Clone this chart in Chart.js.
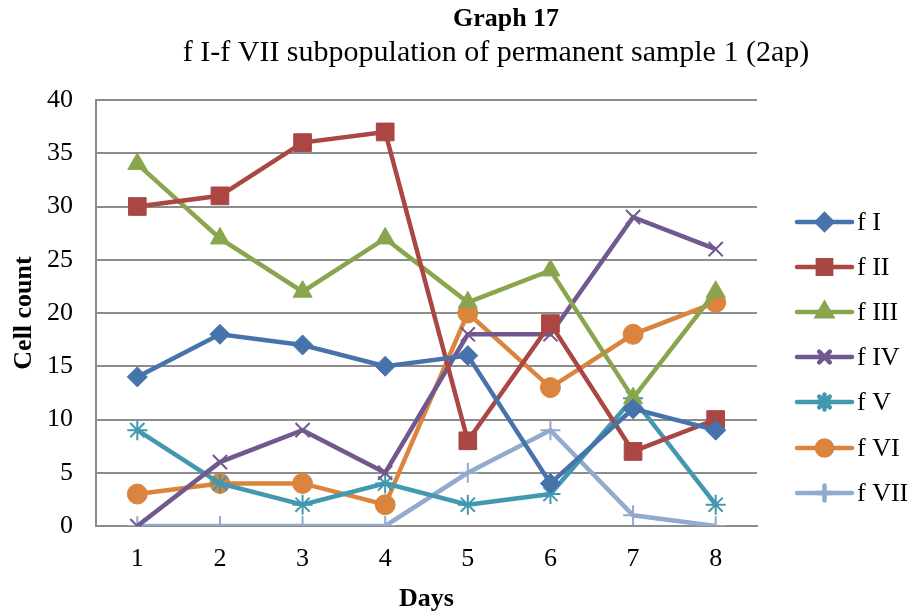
<!DOCTYPE html>
<html><head><meta charset="utf-8">
<script src="https://cdn.jsdelivr.net/npm/chart.js@4/dist/chart.umd.min.js"></script>
<style>html,body{margin:0;padding:0;background:#fff}#wrap{width:912px;height:613px}</style>
</head><body><div id="wrap"><canvas id="c" width="912" height="613"></canvas></div>
<script>
const days = ['1','2','3','4','5','6','7','8'];
const seriesNames = ['f I','f II','f III','f IV','f V','f VI','f VII'];
const fI   = [14,18,17,15,16,4,11,9];
const fII  = [30,31,36,37,8,19,7,10];
const fIII = [34,27,22,27,21,24,12,22];
const fIV  = [0,6,9,5,18,18,29,26];
const fV   = [9,4,2,4,2,3,12,2];
const fVI  = [3,4,4,2,20,13,18,21];
const fVII = [0,0,0,0,5,9,1,0];
const titleText = 'Graph 17';
const subtitleText = 'f I-f VII subpopulation of permanent sample 1 (2ap)';

const colors = ['#4673AB','#AA4643','#89A54E','#71588F','#4198AF','#DB843D','#93A9CF'];
const styles = ['rectRot','rect','triangle','crossRot','star','circle','cross'];
const radii  = [10,12.5,11,10,10,10,10];
const values = [fI,fII,fIII,fIV,fV,fVI,fVII];
const FONT = '"Liberation Serif","Times New Roman",serif';
const isOpen = s => s==='crossRot'||s==='star'||s==='cross';

const datasets = values.map((v,i)=>({
  label: seriesNames[i], data: v,
  borderColor: colors[i], backgroundColor: colors[i],
  borderWidth: 4.5, pointStyle: styles[i], pointRadius: radii[i],
  pointBorderWidth: isOpen(styles[i])?2:1,
  pointBorderColor: colors[i], pointBackgroundColor: colors[i],
  tension: 0, order: i
}));

const deco = {
  id:'deco',
  afterDraw(chart){
    const ctx = chart.ctx;
    ctx.save();
    ctx.fillStyle = '#000';
    ctx.textAlign = 'center'; ctx.textBaseline = 'middle';
    ctx.font = 'bold 26px ' + FONT;
    ctx.fillText(titleText, 506, 19);
    ctx.font = '30px ' + FONT;
    ctx.fillText(subtitleText, 496, 53);
    // legend
    const x0 = 797, x1 = 852, ys = [222,267,312,357,402,448,493];
    chart.data.datasets.forEach((ds,i)=>{
      const y = ys[i];
      ctx.strokeStyle = ds.borderColor; ctx.lineWidth = 4.5; ctx.lineCap='round';
      ctx.beginPath(); ctx.moveTo(x0,y); ctx.lineTo(x1,y); ctx.stroke();
      ctx.fillStyle = ds.backgroundColor;
      Chart.helpers.drawPoint(ctx, {pointStyle: ds.pointStyle, radius: ds.pointRadius*0.75, borderWidth: ds.pointBorderWidth, rotation:0}, (x0+x1)/2, y);
      ctx.fillStyle = '#000'; ctx.textAlign='left';
      ctx.font = '26px ' + FONT;
      ctx.fillText(ds.label, 857, y+1);
    });
    ctx.restore();
  }
};

new Chart(document.getElementById('c'), {
  type:'line',
  data:{labels: days, datasets},
  plugins:[deco],
  options:{
    responsive:false, animation:false, devicePixelRatio:1,
    layout:{padding:{top:100,right:155,left:0,bottom:0}},
    plugins:{legend:{display:false}, tooltip:{enabled:false}},
    scales:{
      x:{
        offset:true,
        grid:{display:false, drawTicks:false, offset:true},
        border:{color:'#8c8c8c', width:2},
        ticks:{color:'#000', font:{family:FONT, size:26}, padding:18},
        title:{display:true, text:'Days', color:'#000', font:{family:FONT, size:26, weight:'bold'}, padding:{top:0,bottom:-2}},
        afterFit(s){ s.height = 87; }
      },
      y:{
        min:0, max:40,
        grid:{color:'#8c8c8c', lineWidth:2, drawTicks:false},
        border:{color:'#8c8c8c', width:2},
        ticks:{stepSize:5, color:'#000', font:{family:FONT, size:26}, padding:23},
        title:{display:true, text:'Cell count', color:'#000', font:{family:FONT, size:26, weight:'bold'}, padding:{top:9,bottom:0}},
        afterFit(s){ s.width = 96; }
      }
    }
  }
});
</script></body></html>
